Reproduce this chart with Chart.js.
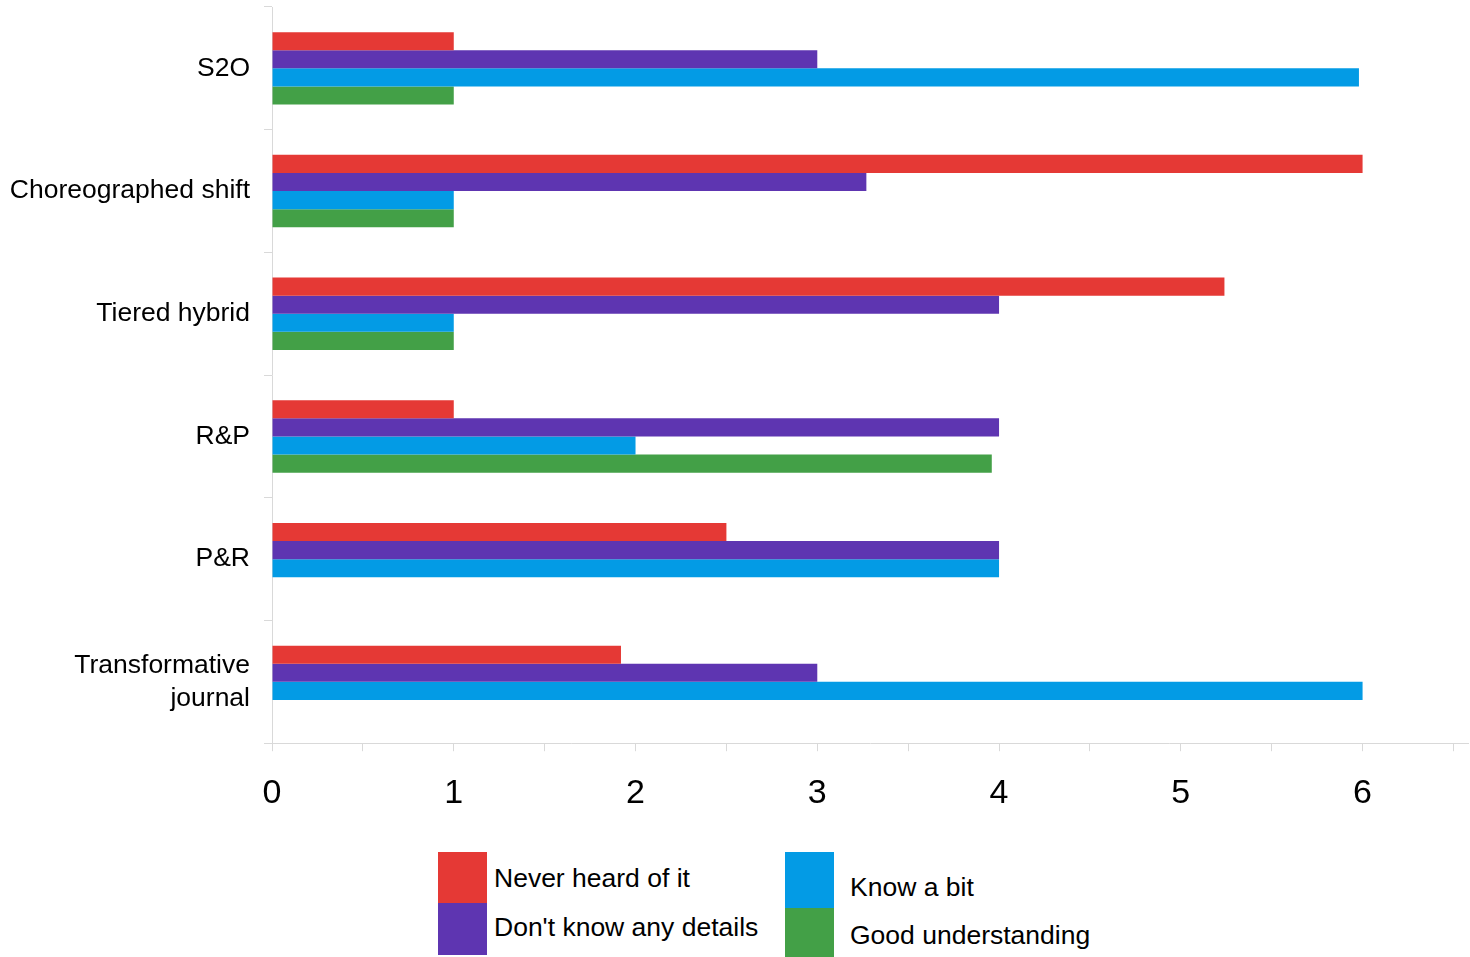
<!DOCTYPE html>
<html>
<head>
<meta charset="utf-8">
<title>Awareness of OA models</title>
<script src="https://cdn.jsdelivr.net/npm/chart.js@4.4.1/dist/chart.umd.min.js"></script>
<style>
  body { margin: 0; background: #fff; font-family: "Liberation Sans", Arial, sans-serif; }
  #wrap { position: relative; width: 1470px; height: 957px; }
  #legend { position: absolute; left: 0; top: 0; }
  .swatch { position: absolute; width: 49px; }
  .ltext { position: absolute; font-size: 26.5px; color: #000; white-space: nowrap; line-height: 30px; }
</style>
</head>
<body>
<div id="wrap">
  <canvas id="barChart" width="1470" height="852"></canvas>
  <div id="legend"></div>
</div>
<script>
// categories (top to bottom)
const categories = [
    "S2O",
    "Choreographed shift",
    "Tiered hybrid",
    "R&P",
    "P&R",
    ["Transformative", "journal"]
];

// series values
const neverHeard = [1, 6, 5.24, 1, 2.5, 1.92];
const noDetails = [3, 3.27, 4, 4, 4, 3];
const knowBit = [5.98, 1, 1, 2, 4, 6];
const goodUnderstanding = [1, 1, 1, 3.96, null, null];

const seriesNames = ["Never heard of it", "Don't know any details", "Know a bit", "Good understanding"];
const seriesColors = ["#e53935", "#5e35b1", "#039be5", "#43a047"];

// x axis tick labels (integers only, ticks every 0.5)
const xTickLabels = ["0", "1", "2", "3", "4", "5", "6"];

const seriesData = [neverHeard, noDetails, knowBit, goodUnderstanding];

const datasets = seriesNames.map((name, i) => ({
    label: name,
    data: seriesData[i],
    backgroundColor: seriesColors[i],
    borderWidth: 0,
    barPercentage: 1,
    categoryPercentage: 0.59
}));

const axisGrey = "#d9d9d9";

new Chart(document.getElementById("barChart"), {
    type: "bar",
    data: { labels: categories, datasets: datasets },
    options: {
        indexAxis: "y",
        responsive: false,
        animation: false,
        layout: { padding: { top: 7, right: 2, bottom: 16, left: 0 } },
        plugins: {
            legend: { display: false },
            tooltip: { enabled: false }
        },
        scales: {
            y: {
                grid: {
                    offset: true,
                    drawOnChartArea: false,
                    drawTicks: true,
                    tickLength: 8,
                    color: axisGrey
                },
                border: { color: axisGrey },
                ticks: {
                    color: "#000",
                    padding: 14,
                    font: { family: "Liberation Sans", size: 26.5, lineHeight: 1.25 }
                },
                afterFit: scale => {
                    scale.width = 272;
                    scale.paddingTop = 0;
                    scale.paddingBottom = 0;
                }
            },
            x: {
                min: 0,
                max: 6.58,
                grid: {
                    drawOnChartArea: false,
                    drawTicks: true,
                    tickLength: 8,
                    color: axisGrey
                },
                border: { color: axisGrey },
                ticks: {
                    stepSize: 0.5,
                    includeBounds: false,
                    autoSkip: false,
                    maxRotation: 0,
                    color: "#000",
                    padding: 22,
                    font: { family: "Liberation Sans", size: 34 },
                    callback: v => Number.isInteger(v) ? xTickLabels[v] : ""
                },
                afterFit: scale => {
                    scale.paddingLeft = 0;
                    scale.paddingRight = 0;
                }
            }
        }
    }
});

// Build the two-column legend under the chart
const legend = document.getElementById("legend");
const legendSlots = [
    { x: 438, top: 852, h: 51, tx: 494, ty: 863 },
    { x: 438, top: 903, h: 52, tx: 494, ty: 912 },
    { x: 785, top: 852, h: 56, tx: 850, ty: 872 },
    { x: 785, top: 908, h: 49, tx: 850, ty: 920 }
];
seriesNames.forEach((name, i) => {
    const s = legendSlots[i];
    const sw = document.createElement("div");
    sw.className = "swatch";
    sw.style.left = s.x + "px";
    sw.style.top = s.top + "px";
    sw.style.height = s.h + "px";
    sw.style.background = seriesColors[i];
    legend.appendChild(sw);

    const t = document.createElement("div");
    t.className = "ltext";
    t.style.left = s.tx + "px";
    t.style.top = s.ty + "px";
    t.textContent = name;
    legend.appendChild(t);
});
</script>
</body>
</html>
